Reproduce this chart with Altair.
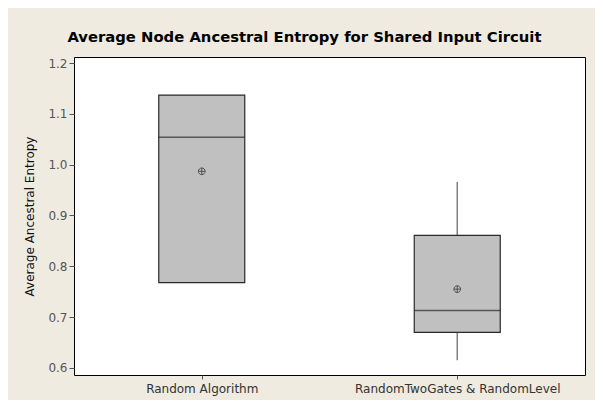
import altair as alt
import pandas as pd

categories = ["Random Algorithm", "RandomTwoGates & RandomLevel"]
q1 = [0.768, 0.670]
median = [1.054, 0.713]
q3 = [1.137, 0.861]
lower = [0.768, 0.615]
upper = [1.137, 0.966]
mean = [0.987, 0.755]
y_ticks = [0.6, 0.7, 0.8, 0.9, 1.0, 1.1, 1.2]

df = pd.DataFrame({"cat": categories, "q1": q1, "median": median, "q3": q3,
                   "lower": lower, "upper": upper, "mean": mean})

FONT = "DejaVu Sans"
xenc = alt.X("cat:N", sort=categories,
             scale=alt.Scale(type="point", padding=0.5),
             axis=alt.Axis(title=None, labelAngle=0, labelFont=FONT, labelFontSize=12,
                           labelColor="#333333", tickColor="#555555", tickSize=4,
                           domain=False, labelPadding=4, labelLimit=0))
yscale = alt.Scale(domain=[0.586, 1.212], nice=False, zero=False)
yaxis = alt.Axis(title="Average Ancestral Entropy", values=y_ticks, format=".1f",
                 labelFont=FONT, labelFontSize=12, labelColor="#555555",
                 titleFont=FONT, titleFontSize=12, titleFontWeight="normal",
                 titleColor="#111111", tickColor="#555555", tickSize=5,
                 domain=False, grid=False, labelPadding=2, titlePadding=11)

base = alt.Chart(df)

whisk_hi = base.mark_rule(color="#808080", strokeWidth=1.5).encode(
    x=xenc, y=alt.Y("q3:Q", scale=yscale, axis=yaxis), y2="upper:Q")
whisk_lo = base.mark_rule(color="#808080", strokeWidth=1.5).encode(
    x=xenc, y=alt.Y("lower:Q", scale=yscale, axis=yaxis), y2="q1:Q")
box = base.mark_bar(size=86, color="#C0C0C0", stroke="#2a2a2a", strokeWidth=1.2).encode(
    x=xenc, y=alt.Y("q1:Q", scale=yscale, axis=yaxis), y2="q3:Q")
med = base.mark_tick(size=86, thickness=1.5, color="#2a2a2a").encode(
    x=xenc, y=alt.Y("median:Q", scale=yscale, axis=yaxis))
mean_pt = base.mark_point(
    shape="M-1,0A1,1 0 1,1 1,0A1,1 0 1,1 -1,0ZM-1,0L1,0M0,-1L0,1",
    filled=False, size=45, color="#222222", strokeWidth=1).encode(
    x=xenc, y=alt.Y("mean:Q", scale=yscale, axis=yaxis))

chart = alt.layer(whisk_hi, whisk_lo, box, med, mean_pt).properties(
    width=511, height=318,
    title=alt.TitleParams("Average Node Ancestral Entropy for Shared Input Circuit",
                          font=FONT, fontSize=14.8, fontWeight="bold", color="#000000",
                          anchor="middle", frame="bounds", offset=12),
    autosize=alt.AutoSizeParams(type="none"),
    padding={"left": 66, "top": 49, "right": 10, "bottom": 25},
    background="#EFEBE1",
).configure_view(stroke="#000000", strokeWidth=1, fill="#FFFFFF")

chart.save("out.html", embed_options={"renderer": "svg", "actions": False})
